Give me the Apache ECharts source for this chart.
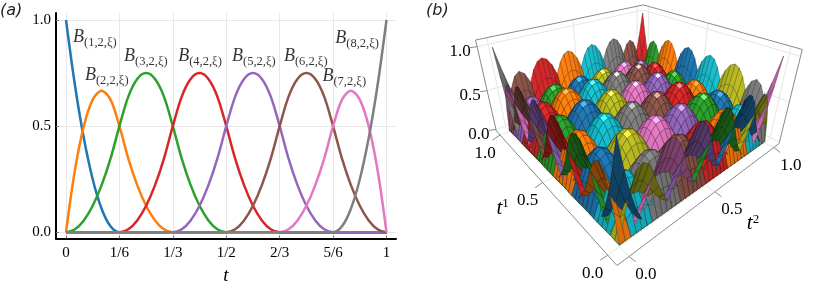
<!DOCTYPE html>
<html><head><meta charset="utf-8">
<style>html,body{margin:0;padding:0;background:#fff}#c{width:831px;height:285px}</style>
<script src="https://cdn.jsdelivr.net/npm/echarts@6/dist/echarts.min.js"></script>
</head><body><div id="c"></div>
<script>
const tSamples = [0,.0278,.0556,.0833,.1111,.1389,.1667,.1944,.2222,.25,.2778,.3056,.3333,.3611,.3889,.4167,.4444,.4722,.5,.5278,.5556,.5833,.6111,.6389,.6667,.6944,.7222,.75,.7778,.8056,.8333,.8611,.8889,.9167,.9444,.9722,1];
const B1 = [1,.694,.444,.25,.111,.028, 0,0,0,0,0,0, 0,0,0,0,0,0, 0,0,0,0,0,0, 0,0,0,0,0,0, 0,0,0,0,0,0, 0];
const B2 = [0,.292,.5,.625,.667,.625, .5,.347,.222,.125,.056,.014, 0,0,0,0,0,0, 0,0,0,0,0,0, 0,0,0,0,0,0, 0,0,0,0,0,0, 0];
const B3 = [0,.014,.056,.125,.222,.347, .5,.639,.722,.75,.722,.639, .5,.347,.222,.125,.056,.014, 0,0,0,0,0,0, 0,0,0,0,0,0, 0,0,0,0,0,0, 0];
const B4 = [0,0,0,0,0,0, 0,.014,.056,.125,.222,.347, .5,.639,.722,.75,.722,.639, .5,.347,.222,.125,.056,.014, 0,0,0,0,0,0, 0,0,0,0,0,0, 0];
const B5 = [0,0,0,0,0,0, 0,0,0,0,0,0, 0,.014,.056,.125,.222,.347, .5,.639,.722,.75,.722,.639, .5,.347,.222,.125,.056,.014, 0,0,0,0,0,0, 0];
const B6 = [0,0,0,0,0,0, 0,0,0,0,0,0, 0,0,0,0,0,0, 0,.014,.056,.125,.222,.347, .5,.639,.722,.75,.722,.639, .5,.347,.222,.125,.056,.014, 0];
const B7 = [0,0,0,0,0,0, 0,0,0,0,0,0, 0,0,0,0,0,0, 0,0,0,0,0,0, 0,.014,.056,.125,.222,.347, .5,.625,.667,.625,.5,.292, 0];
const B8 = [0,0,0,0,0,0, 0,0,0,0,0,0, 0,0,0,0,0,0, 0,0,0,0,0,0, 0,0,0,0,0,0, 0,.028,.111,.25,.444,.694, 1];
const basisValues = [B1,B2,B3,B4,B5,B6,B7,B8];
const basisNames = ['(1,2,ξ)','(2,2,ξ)','(3,2,ξ)','(4,2,ξ)','(5,2,ξ)','(6,2,ξ)','(7,2,ξ)','(8,2,ξ)'];
const labelT = [.022,.059,.181,.350,.518,.680,.800,.840];
const labelY = [.910,.731,.820,.820,.820,.820,.727,.906];
const palette = ['#1f77b4','#ff7f0e','#2ca02c','#d62728','#9467bd','#8c564b','#e377c2','#7f7f7f','#bcbd22','#17becf'];
const xTickValues = [0,1/6,1/3,1/2,2/3,5/6,1];
const xTickLabels = ['0','1/6','1/3','1/2','2/3','5/6','1'];
const yTickValues = [0,.5,1];
const surfaceTicks = [0,.5,1];
const surfaceTickLabels = ['0.0','0.5','1.0'];

// ---- camera of panel (b): pairs of (t1,t2,z) and the page position seen ----
const cameraAnchors = [
 [0,0,0,619.3,244.3],[1,0,0,509.3,130],[0,1,0,765,141.7],
 [1,0,1,492.3,46.7],[0,1,1,783.3,55],[1,1,1,642.7,13.3],[0,0,1,616.7,136.7]];
const boxLo = -.055, boxHi = 1.055, zLo = -.02, zHi = 1.07;

const serif = '"Liberation Serif"';
function gauss(A,b){const n=b.length,M=A.map((r,i)=>r.concat(b[i]));
 for(let c=0;c<n;c++){let p=c;for(let r=c+1;r<n;r++)if(Math.abs(M[r][c])>Math.abs(M[p][c]))p=r;
  [M[c],M[p]]=[M[p],M[c]];
  for(let r=0;r<n;r++)if(r!==c){const f=M[r][c]/M[c][c];for(let k=c;k<=n;k++)M[r][k]-=f*M[c][k];}}
 return M.map((r,i)=>r[n]/r[i]);}
function fitCamera(){const rows=[],rhs=[];
 cameraAnchors.forEach(([x,y,z,u,v])=>{
  rows.push([x,y,z,1,0,0,0,0,-u*x,-u*y,-u*z]);rhs.push(u);
  rows.push([0,0,0,0,x,y,z,1,-v*x,-v*y,-v*z]);rhs.push(v);});
 const A=[],b=[];
 for(let i=0;i<11;i++){A.push([]);b.push(rows.reduce((s,r,k)=>s+r[i]*rhs[k],0));
  for(let j=0;j<11;j++)A[i].push(rows.reduce((s,r)=>s+r[i]*r[j],0));}
 return gauss(A,b);}
const P=fitCamera();
const wOf=(x,y,z)=>P[8]*x+P[9]*y+P[10]*z+1;
const project=(x,y,z)=>{const w=wOf(x,y,z);return[(P[0]*x+P[1]*y+P[2]*z+P[3])/w,(P[4]*x+P[5]*y+P[6]*z+P[7])/w];};
const eye=gauss([[P[0],P[1],P[2]],[P[4],P[5],P[6]],[P[8],P[9],P[10]]],[-P[3],-P[7],-1]);

const norm=v=>{const l=Math.hypot(v[0],v[1],v[2])||1;return[v[0]/l,v[1]/l,v[2]/l];};
const dot=(a,b)=>a[0]*b[0]+a[1]*b[1]+a[2]*b[2];
const hex=h=>[1,3,5].map(i=>parseInt(h.substr(i,2),16));
// each surface is the product of two basis curves
const surfaceZ=(i,j,a,b)=>basisValues[i][a]*basisValues[j][b];
function quadCorners(i,j,a,b){return[[a,b],[a+1,b],[a+1,b+1],[a,b+1]].map(([p,q])=>[tSamples[p],tSamples[q],surfaceZ(i,j,p,q)]);}
function shade(i,j,c){
 const d1=[c[2][0]-c[0][0],c[2][1]-c[0][1],c[2][2]-c[0][2]],d2=[c[3][0]-c[1][0],c[3][1]-c[1][1],c[3][2]-c[1][2]];
 let n=norm([d1[1]*d2[2]-d1[2]*d2[1],d1[2]*d2[0]-d1[0]*d2[2],d1[0]*d2[1]-d1[1]*d2[0]]);
 if(n[2]<0)n=n.map(x=>-x);
 const m=[0,1,2].map(k=>(c[0][k]+c[1][k]+c[2][k]+c[3][k])/4);
 const V=norm([eye[0]-m[0],eye[1]-m[1],eye[2]-m[2]]);
 const base=hex(palette[(i+8*j)%10]);const f=dot(n,V);let col;
 if(f<0){const s=.46+.22*Math.min(1,-f);col=base.map(x=>x*s);}
 else{const L=norm([V[0],V[1],V[2]+.25]);const dif=Math.max(0,dot(n,L));
  const sp=Math.pow(dif,28)*.6;const s=.72+.4*dif;col=base.map(x=>Math.min(255,x*s+255*sp));}
 return col.map(Math.round);}

// one patch cell per row, far ones first
const cells=[];
for(let i=0;i<8;i++)for(let j=0;j<8;j++)for(let a=0;a<36;a++)for(let b=0;b<36;b++){
 if(surfaceZ(i,j,a,b)+surfaceZ(i,j,a+1,b)+surfaceZ(i,j,a,b+1)+surfaceZ(i,j,a+1,b+1)<=0)continue;
 const c=quadCorners(i,j,a,b);
 const d=c.reduce((s,p)=>s+wOf(p[0],p[1],p[2]),0);
 cells.push({v:[i,j,a,b],d});}
cells.sort((p,q)=>q.d-p.d);

const lineSeries=basisValues.map((vals,k)=>({type:'line',xAxisIndex:0,yAxisIndex:0,
 data:vals.map((y,n)=>[tSamples[n],y]),showSymbol:false,smooth:.33,
 lineStyle:{color:palette[k],width:2.5,join:'round'},silent:true,z:3}));
const labelSeries={type:'scatter',xAxisIndex:0,yAxisIndex:0,symbolSize:0,silent:true,z:5,
 data:labelT.map((t,k)=>({value:[t,labelY[k]],name:basisNames[k]})),
 label:{show:true,position:'right',distance:0,
  formatter:p=>'{b|B}{s|'+p.name+'}',
  rich:{b:{fontFamily:serif,fontStyle:'italic',fontSize:18,color:'#000',padding:[0,0,3,0]},
        s:{fontFamily:serif,fontSize:12.5,color:'#000',padding:[7,0,0,0]}}}};

const line3=(a,b,stroke,w)=>{const p=project(...a),q=project(...b);return{p,q,stroke,w};};
const frame=[];
const gridC='#e6e6e6',boxC='#8a8a8a';
surfaceTicks.forEach(v=>{
 frame.push(line3([boxHi,boxLo,v],[boxHi,boxHi,v],gridC,1),line3([boxHi,boxHi,v],[boxLo,boxHi,v],gridC,1));
 frame.push(line3([v,boxHi,zLo],[v,boxHi,zHi],gridC,1),line3([boxHi,v,zLo],[boxHi,v,zHi],gridC,1));
 frame.push(line3([v,boxLo,zLo],[v,boxHi,zLo],gridC,1),line3([boxLo,v,zLo],[boxHi,v,zLo],gridC,1));
});
frame.push(line3([boxHi,boxLo,zHi],[boxHi,boxHi,zHi],boxC,1),line3([boxHi,boxHi,zHi],[boxLo,boxHi,zHi],boxC,1));
frame.push(line3([boxHi,boxLo,zHi],[boxHi,boxLo,zLo],boxC,1),line3([boxLo,boxHi,zHi],[boxLo,boxHi,zLo],boxC,1));
frame.push(line3([boxHi,boxLo,zLo],[boxLo,boxLo,zLo],boxC,1),line3([boxLo,boxLo,zLo],[boxLo,boxHi,zLo],boxC,1));
const stub=(p,dx,dy)=>({p,q:[p[0]+dx,p[1]+dy],stroke:boxC,w:1});
const texts=[];
surfaceTicks.forEach((v,k)=>{
 const a=project(v,boxLo,zLo),b=project(boxLo,v,zLo),c=project(boxHi,boxLo,v);
 frame.push(stub(a,-7.5,5),stub(b,6.5,5),stub(c,-7,1));
 texts.push({p:[a[0]-15,a[1]+18],t:surfaceTickLabels[k]},{p:[b[0]+17,b[1]+18],t:surfaceTickLabels[k]},{p:[c[0]-17,c[1]+5],t:surfaceTickLabels[k]});
});
const nameA=project(.5,boxLo,zLo),nameB=project(boxLo,.5,zLo);
texts.push({p:[nameA[0]-40,nameA[1]+26],t:'{i|t}{u|1}'},{p:[nameB[0]+38,nameB[1]+32],t:'{i|t}{u|2}'});

const frameSeries={type:'custom',xAxisIndex:1,yAxisIndex:1,silent:true,clip:false,z:2,progressive:0,
 data:frame.map((f,n)=>[n]),
 renderItem:(ps,api)=>{const f=frame[ps.dataIndex],a=api.coord(f.p),b=api.coord(f.q);
  return{type:'line',shape:{x1:a[0],y1:a[1],x2:b[0],y2:b[1]},style:{stroke:f.stroke,lineWidth:f.w,fill:null}};}};
const surfaceSeries={type:'custom',xAxisIndex:1,yAxisIndex:1,silent:true,clip:false,z:3,progressive:0,
 data:cells.map(c=>c.v),
 renderItem:(ps,api)=>{const [i,j,a,b]=cells[ps.dataIndex].v;const c=quadCorners(i,j,a,b);
  const pts=c.map(p=>api.coord(project(p[0],p[1],p[2])));const col=shade(i,j,c);
  return{type:'polygon',z2:ps.dataIndex,shape:{points:pts},
   style:{fill:'rgb('+col+')',stroke:'rgb('+col.map(x=>Math.round(x*.52))+')',lineWidth:.5}};}};
const textSeries={type:'custom',xAxisIndex:1,yAxisIndex:1,silent:true,clip:false,z:4,progressive:0,
 data:texts.map((t,n)=>[n]),
 renderItem:(ps,api)=>{const t=texts[ps.dataIndex],a=api.coord(t.p);
  return{type:'text',x:a[0],y:a[1],style:{text:t.t,fill:'#000',font:'17px '+serif,align:'center',verticalAlign:'middle',
   rich:{i:{fontFamily:serif,fontStyle:'italic',fontSize:21,fill:'#000',color:'#000'},
         u:{fontFamily:serif,fontSize:13,fill:'#000',color:'#000',padding:[0,0,9,0]}}}};}};

const panelTag={fontFamily:'DejaVu Sans',fontStyle:'oblique',fontWeight:'normal',fontSize:16,color:'#222'};
const chart=echarts.init(document.getElementById('c'),null,{width:831,height:285});
chart.setOption({animation:false,backgroundColor:'#fff',
 title:[{text:'(a)',left:0,top:3,padding:0,textStyle:panelTag},
        {text:'(b)',left:426,top:3,padding:0,textStyle:panelTag}],
 grid:[{left:56,top:13,width:340,height:225.5,outerBoundsMode:'none'},{left:0,top:0,width:831,height:285,outerBoundsMode:'none'}],
 xAxis:[{type:'value',gridIndex:0,min:-.0312,max:1.0296,name:'t',nameLocation:'middle',nameGap:28,
   nameTextStyle:{fontFamily:serif,fontStyle:'italic',fontSize:19,color:'#000'},
   axisLine:{onZero:false,lineStyle:{color:'#000',width:2}},
   axisTick:{show:true,inside:true,length:3,lineStyle:{color:'#777'},customValues:xTickValues},
   axisLabel:{customValues:xTickValues,margin:7,fontFamily:serif,fontSize:15,color:'#000',hideOverlap:false,
     formatter:v=>{const n=xTickValues.findIndex(x=>Math.abs(x-v)<1e-6);return n<0?'':xTickLabels[n];}},
   splitLine:{show:true,lineStyle:{color:'#e8e8e8',width:1}}},
  {type:'value',gridIndex:1,min:0,max:831,show:false}],
 yAxis:[{type:'value',gridIndex:0,min:-.0292,max:1.0330,
   axisLine:{show:true,onZero:false,lineStyle:{color:'#000',width:2}},
   axisTick:{show:true,inside:true,length:3,lineStyle:{color:'#777'},customValues:yTickValues},
   axisLabel:{customValues:yTickValues,margin:5,fontFamily:serif,fontSize:15,color:'#000',hideOverlap:false,formatter:v=>v.toFixed(1)},
   splitLine:{show:true,lineStyle:{color:'#e8e8e8',width:1}}},
  {type:'value',gridIndex:1,min:0,max:285,inverse:true,show:false}],
 series:[...lineSeries,labelSeries,frameSeries,surfaceSeries,textSeries]});
</script></body></html>
